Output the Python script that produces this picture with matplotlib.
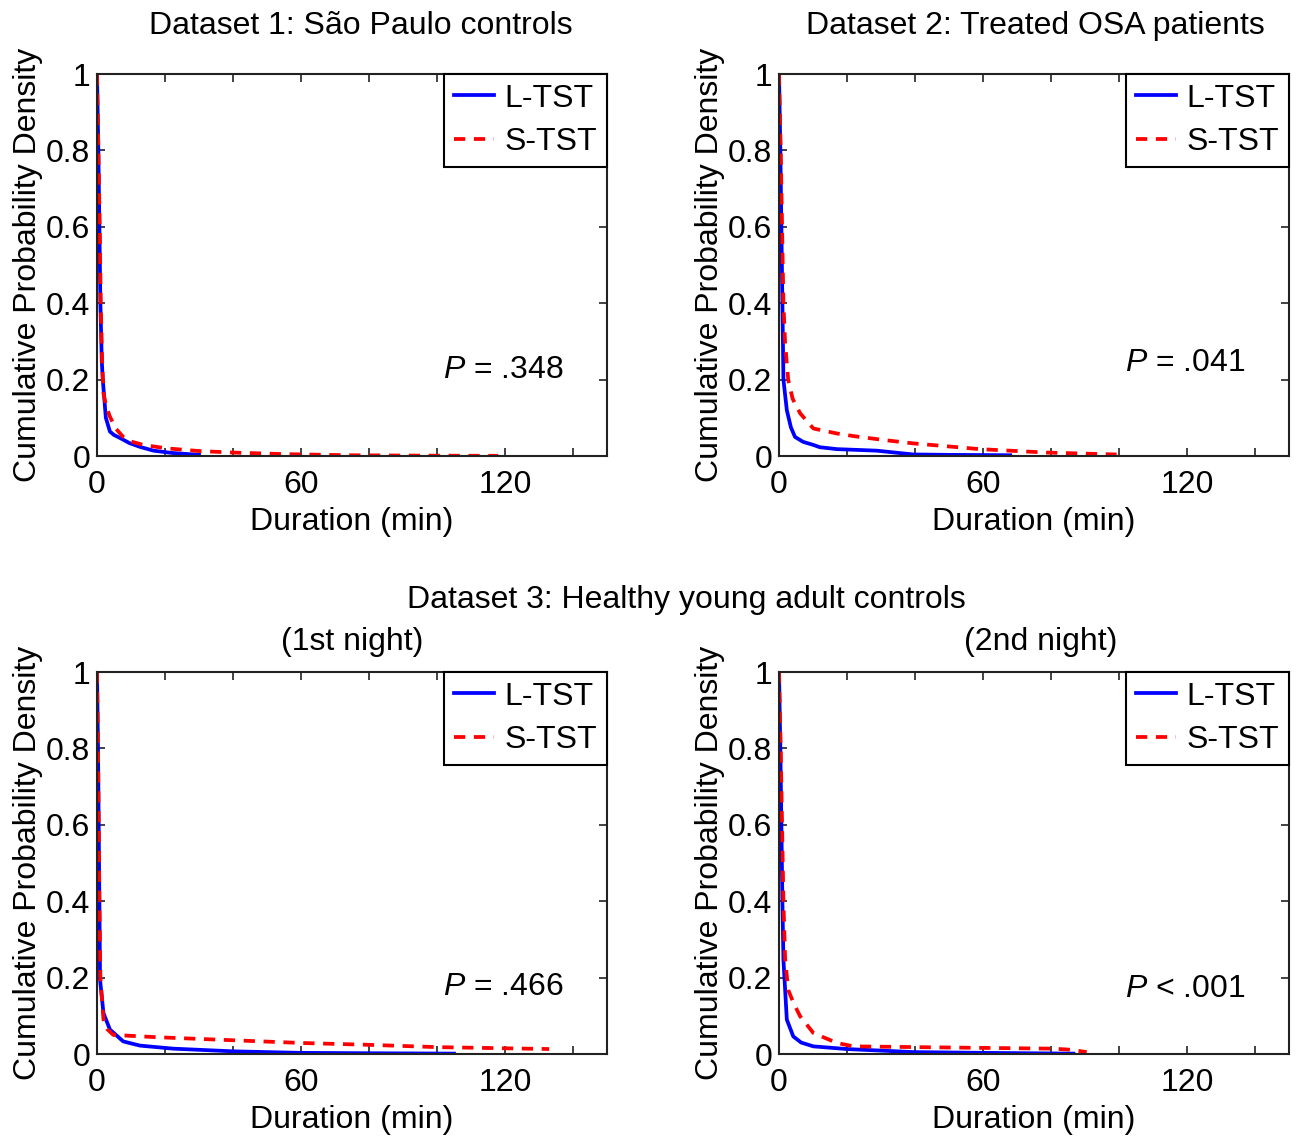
import matplotlib.pyplot as plt

plt.rcParams['font.family'] = ['Liberation Sans', 'DejaVu Sans']
plt.rcParams['mathtext.fontset'] = 'custom'
plt.rcParams['mathtext.rm'] = 'Liberation Sans'
plt.rcParams['mathtext.it'] = 'Liberation Sans:italic'

# survival curves (duration in min, cumulative probability)
d1_long_x = [0, 0.4, 0.7, 1.0, 1.4, 1.7, 2.6, 3.8, 5.0, 6.8, 9.5, 12.6, 16.6, 22, 30]
d1_long_y = [1, 0.8, 0.6, 0.4, 0.25, 0.2, 0.1, 0.064, 0.055, 0.047, 0.034, 0.024, 0.014, 0.008, 0.003]
d1_short_x = [0, 0.4, 0.8, 1.1, 1.5, 1.9, 2.7, 3.8, 5.5, 7.7, 10, 13.6, 20.5, 30, 40, 55, 74, 95, 118]
d1_short_y = [1, 0.8, 0.6, 0.4, 0.25, 0.164, 0.13, 0.103, 0.072, 0.05, 0.038, 0.029, 0.02, 0.013, 0.009, 0.005, 0.002, 0.001, 0.0005]

d2_long_x = [0, 0.4, 0.7, 1.0, 1.3, 2.3, 3.5, 4.7, 7.1, 10.1, 12, 17, 28.7, 39.5, 50, 68]
d2_long_y = [1, 0.8, 0.6, 0.4, 0.2, 0.12, 0.075, 0.05, 0.037, 0.029, 0.023, 0.018, 0.014, 0.004, 0.003, 0.002]
d2_short_x = [0, 0.5, 0.9, 1.3, 1.8, 2.7, 4.0, 6.2, 10.1, 17, 22, 30.7, 39.5, 50, 59, 78.7, 99.3]
d2_short_y = [1, 0.8, 0.6, 0.4, 0.295, 0.2, 0.15, 0.112, 0.072, 0.059, 0.052, 0.042, 0.033, 0.025, 0.018, 0.009, 0.004]

d3n1_long_x = [0, 0.3, 0.5, 0.7, 0.9, 1.9, 3.8, 7.7, 12.6, 22.4, 40, 59.7, 80, 105]
d3n1_long_y = [1, 0.8, 0.6, 0.4, 0.194, 0.107, 0.064, 0.033, 0.022, 0.014, 0.007, 0.003, 0.002, 0.001]
d3n1_short_x = [0, 0.3, 0.5, 0.7, 1.0, 1.9, 3.0, 4.8, 17.5, 40, 59.7, 80, 100, 133]
d3n1_short_y = [1, 0.8, 0.6, 0.4, 0.2, 0.09, 0.065, 0.05, 0.044, 0.036, 0.029, 0.024, 0.018, 0.013]

d3n2_long_x = [0, 0.4, 0.7, 1.0, 1.3, 2.3, 4.2, 6.5, 10.1, 19.9, 39.5, 60, 86.6]
d3n2_long_y = [1, 0.8, 0.6, 0.4, 0.247, 0.09, 0.046, 0.03, 0.02, 0.013, 0.005, 0.003, 0.001]
d3n2_short_x = [0, 0.5, 0.9, 1.3, 1.8, 2.7, 4.2, 6.2, 10.1, 17, 21.9, 40.5, 60, 80.7, 86, 90.5]
d3n2_short_y = [1, 0.8, 0.6, 0.4, 0.25, 0.168, 0.135, 0.099, 0.055, 0.029, 0.02, 0.018, 0.016, 0.014, 0.011, 0.005]

p_labels = ['$P$ = .348', '$P$ = .041', '$P$ = .466', '$P$ < .001']
p_pos_y = [0.225, 0.243, 0.175, 0.17]
titles = ['Dataset 1: São Paulo controls', 'Dataset 2: Treated OSA patients', '(1st night)', '(2nd night)']

panels = [
    (d1_long_x, d1_long_y, d1_short_x, d1_short_y),
    (d2_long_x, d2_long_y, d2_short_x, d2_short_y),
    (d3n1_long_x, d3n1_long_y, d3n1_short_x, d3n1_short_y),
    (d3n2_long_x, d3n2_long_y, d3n2_short_x, d3n2_short_y),
]

fig = plt.figure(figsize=(12.96, 11.39), dpi=100)
W, H = 1296, 1139
boxes = [(97, 74), (779, 74), (97, 672), (779, 672)]
title_pads = [29, 29, 16, 16]
title_x = [0.518, 0.503, 0.5, 0.514]
fs = 23

for i, (lx, ly, sx, sy) in enumerate(panels):
    x0, y0 = boxes[i]
    ax = fig.add_axes([x0 / W, 1 - (y0 + 382) / H, 510 / W, 382 / H])
    ax.plot(lx, ly, color='#0000ff', lw=2.7, label='L-TST')
    ax.plot(sx, sy, color='#ff0000', lw=2.7, ls=(0, (3.0, 2.3)), label='S-TST')
    ax.set_xlim(0, 150)
    ax.set_ylim(0, 1)
    ax.set_xticks(range(0, 150, 20))
    ax.set_xticklabels(['0', '', '', '60', '', '', '120', ''])
    ax.set_yticks([0, 0.2, 0.4, 0.6, 0.8, 1])
    ax.set_yticklabels(['0', '0.2', '0.4', '0.6', '0.8', '1'])
    ax.tick_params(direction='in', top=True, right=True, length=6, width=1.2,
                   labelsize=fs, color='#222222')
    ax.tick_params(axis='x', pad=10)
    ax.tick_params(axis='y', pad=5)
    for s in ax.spines.values():
        s.set_linewidth(1.5)
        s.set_color('#222222')
    ax.set_xlabel('Duration (min)', fontsize=fs, labelpad=5)
    ax.set_ylabel('Cumulative Probability Density', fontsize=fs, labelpad=2)
    t = ax.set_title(titles[i], fontsize=fs, pad=title_pads[i])
    t.set_x(title_x[i])
    ax.text(119.4, p_pos_y[i], p_labels[i], fontsize=fs, ha='center', va='center')
    leg = ax.legend(loc='upper right', fontsize=fs, handlelength=1.25, handletextpad=0.35,
                    borderpad=0.3, labelspacing=0.42, borderaxespad=0, fancybox=False,
                    framealpha=1, edgecolor='black')
    leg.get_frame().set_linewidth(1.5)

fig.text(686 / W, 1 - 600 / H, 'Dataset 3: Healthy young adult controls', fontsize=fs,
         ha='center', va='center')

fig.savefig('out.png', dpi=100)
